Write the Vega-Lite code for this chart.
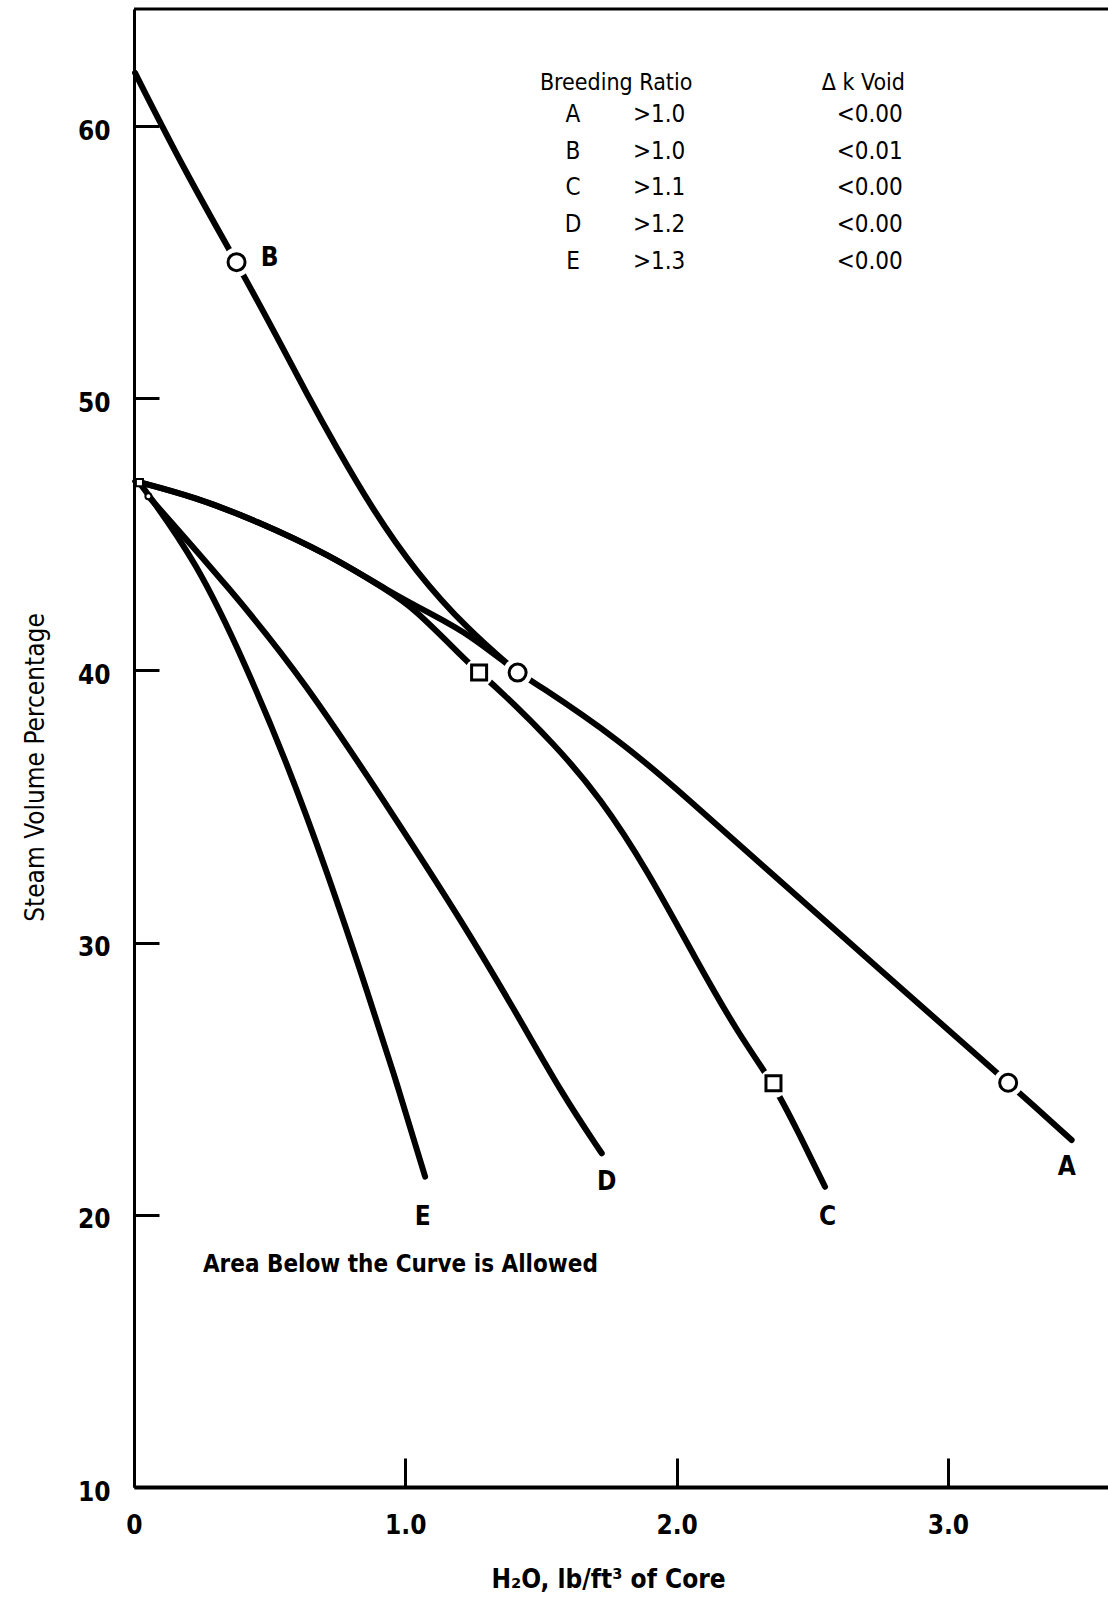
{
  "$schema": "https://vega.github.io/schema/vega-lite/v6.json",
  "width": 974,
  "height": 1478,
  "autosize": {"type": "none"},
  "padding": {"left": 134, "top": 9, "right": 0, "bottom": 113},
  "background": "white",
  "config": {"view": {"stroke": null}, "font": "DejaVu Sans Condensed"},
  "datasets": {
    "curves": [
      {"curve": "A", "x": 0.005, "y": 46.95}, {"curve": "A", "x": 0.23, "y": 46.35}, {"curve": "A", "x": 0.45, "y": 45.5},
      {"curve": "A", "x": 0.72, "y": 44.25}, {"curve": "A", "x": 0.94, "y": 42.9}, {"curve": "A", "x": 1.1, "y": 42.05},
      {"curve": "A", "x": 1.24, "y": 41.3}, {"curve": "A", "x": 1.414, "y": 39.92}, {"curve": "A", "x": 1.47, "y": 39.6},
      {"curve": "A", "x": 1.79, "y": 37.45}, {"curve": "A", "x": 2.04, "y": 35.3}, {"curve": "A", "x": 2.32, "y": 32.8},
      {"curve": "A", "x": 2.75, "y": 29.0}, {"curve": "A", "x": 3.155, "y": 25.44}, {"curve": "A", "x": 3.222, "y": 24.85},
      {"curve": "A", "x": 3.456, "y": 22.75},
      {"curve": "B", "x": 0.004, "y": 61.95}, {"curve": "B", "x": 0.19, "y": 58.3}, {"curve": "B", "x": 0.378, "y": 55.0},
      {"curve": "B", "x": 0.53, "y": 52.2}, {"curve": "B", "x": 0.64, "y": 50.1}, {"curve": "B", "x": 0.74, "y": 48.3},
      {"curve": "B", "x": 0.88, "y": 45.9}, {"curve": "B", "x": 1.04, "y": 43.6}, {"curve": "B", "x": 1.23, "y": 41.5},
      {"curve": "B", "x": 1.414, "y": 39.92},
      {"curve": "C", "x": 0.005, "y": 46.95}, {"curve": "C", "x": 0.23, "y": 46.35}, {"curve": "C", "x": 0.45, "y": 45.5},
      {"curve": "C", "x": 0.72, "y": 44.25}, {"curve": "C", "x": 0.94, "y": 42.9}, {"curve": "C", "x": 1.03, "y": 42.3},
      {"curve": "C", "x": 1.21, "y": 40.5}, {"curve": "C", "x": 1.272, "y": 39.92}, {"curve": "C", "x": 1.34, "y": 39.35},
      {"curve": "C", "x": 1.55, "y": 37.3}, {"curve": "C", "x": 1.72, "y": 35.3}, {"curve": "C", "x": 1.89, "y": 32.7},
      {"curve": "C", "x": 2.07, "y": 29.4}, {"curve": "C", "x": 2.23, "y": 26.6}, {"curve": "C", "x": 2.357, "y": 24.83},
      {"curve": "C", "x": 2.45, "y": 23.0}, {"curve": "C", "x": 2.547, "y": 21.03},
      {"curve": "D", "x": 0.053, "y": 46.4}, {"curve": "D", "x": 0.354, "y": 43.0}, {"curve": "D", "x": 0.623, "y": 39.7},
      {"curve": "D", "x": 0.968, "y": 34.5}, {"curve": "D", "x": 1.214, "y": 30.7}, {"curve": "D", "x": 1.41, "y": 27.4},
      {"curve": "D", "x": 1.58, "y": 24.4}, {"curve": "D", "x": 1.724, "y": 22.26},
      {"curve": "E", "x": 0.02, "y": 46.9}, {"curve": "E", "x": 0.232, "y": 44.0}, {"curve": "E", "x": 0.416, "y": 40.1},
      {"curve": "E", "x": 0.56, "y": 36.7}, {"curve": "E", "x": 0.71, "y": 32.67}, {"curve": "E", "x": 0.87, "y": 27.9},
      {"curve": "E", "x": 0.97, "y": 24.8}, {"curve": "E", "x": 1.073, "y": 21.4}
    ],
    "frame": [
      {"x": 0, "x2": 3.59, "y": 64.3}
    ],
    "markers": [
      {"shape": "circle", "x": 0.378, "y": 55.0},
      {"shape": "circle", "x": 1.414, "y": 39.92},
      {"shape": "circle", "x": 3.222, "y": 24.85},
      {"shape": "square", "x": 1.272, "y": 39.92},
      {"shape": "square", "x": 2.357, "y": 24.83}
    ],
    "small": [
      {"shape": "square", "x": 0.02, "y": 46.9},
      {"shape": "circle", "x": 0.053, "y": 46.4}
    ],
    "labels": [
      {"text": "A", "x": 3.438, "y": 21.77},
      {"text": "B", "x": 0.5, "y": 55.17},
      {"text": "C", "x": 2.556, "y": 19.93},
      {"text": "D", "x": 1.742, "y": 21.2},
      {"text": "E", "x": 1.064, "y": 19.93}
    ],
    "table": [
      {"col": "hdr", "text": "Breeding Ratio", "x": 1.496, "y": 61.58},
      {"col": "hdr", "text": "Δ k Void", "x": 2.535, "y": 61.58},
      {"col": "letter", "text": "A", "x": 1.618, "y": 60.4},
      {"col": "letter", "text": "B", "x": 1.618, "y": 59.05},
      {"col": "letter", "text": "C", "x": 1.618, "y": 57.72},
      {"col": "letter", "text": "D", "x": 1.618, "y": 56.36},
      {"col": "letter", "text": "E", "x": 1.618, "y": 55.01},
      {"col": "val", "text": ">1.0", "x": 1.839, "y": 60.4},
      {"col": "val", "text": ">1.0", "x": 1.839, "y": 59.05},
      {"col": "val", "text": ">1.1", "x": 1.839, "y": 57.72},
      {"col": "val", "text": ">1.2", "x": 1.839, "y": 56.36},
      {"col": "val", "text": ">1.3", "x": 1.839, "y": 55.01},
      {"col": "val", "text": "<0.00", "x": 2.59, "y": 60.4},
      {"col": "val", "text": "<0.01", "x": 2.59, "y": 59.05},
      {"col": "val", "text": "<0.00", "x": 2.59, "y": 57.72},
      {"col": "val", "text": "<0.00", "x": 2.59, "y": 56.36},
      {"col": "val", "text": "<0.00", "x": 2.59, "y": 55.01}
    ],
    "note": [
      {"text": "Area Below the Curve is Allowed", "x": 0.254, "y": 18.16}
    ]
  },
  "encoding": {
    "x": {
      "field": "x", "type": "quantitative",
      "scale": {"domain": [0, 3.59], "nice": false, "zero": false},
      "axis": {
        "values": [0, 1, 2, 3],
        "labelExpr": "datum.value == 0 ? '0' : format(datum.value, '.1f')",
        "grid": false,
        "tickSize": -29, "tickWidth": 3, "tickColor": "black",
        "domainColor": "black", "domainWidth": 4,
        "labelPadding": 54, "labelFont": "DejaVu Sans Condensed", "labelFontWeight": "bold",
        "labelFontSize": 26, "labelColor": "black", "labelBaseline": "top", "labelFlush": false, "labelOverlap": false,
        "title": "H₂O,  lb/ft³ of Core",
        "titleFont": "DejaVu Sans Condensed", "titleFontSize": 26, "titleFontWeight": "bold", "titleColor": "black",
        "titleX": 474, "titleY": 100, "titleBaseline": "alphabetic", "titleAlign": "center"
      }
    },
    "y": {
      "field": "y", "type": "quantitative",
      "scale": {"domain": [10, 64.3], "nice": false, "zero": false},
      "axis": {
        "values": [10, 20, 30, 40, 50, 60],
        "grid": false,
        "tickSize": -25, "tickWidth": 3, "tickColor": "black",
        "domainColor": "black", "domainWidth": 3,
        "labelPadding": 49, "labelOffset": 5, "labelFont": "DejaVu Sans Condensed", "labelFontWeight": "bold",
        "labelFontSize": 26, "labelColor": "black", "labelFlush": false, "labelOverlap": false,
        "title": "Steam Volume Percentage",
        "titleFont": "DejaVu Sans Condensed", "titleFontSize": 26, "titleFontWeight": "normal", "titleColor": "black",
        "titleX": -99, "titleY": 758, "titleAngle": 270, "titleBaseline": "middle", "titleAlign": "center"
      }
    }
  },
  "layer": [
    {
      "data": {"name": "curves"},
      "mark": {"type": "line", "color": "black", "strokeWidth": 6, "strokeCap": "round", "strokeJoin": "round", "interpolate": "basis"},
      "encoding": {
        "detail": {"field": "curve", "type": "nominal"}
      }
    },
    {
      "data": {"name": "frame"},
      "mark": {"type": "rule", "color": "black", "strokeWidth": 3},
      "encoding": {
        "x2": {"field": "x2"}
      }
    },
    {
      "data": {"name": "markers"},
      "mark": {"type": "point", "shape": "circle", "filled": true, "color": "white", "opacity": 1, "size": 850}
    },
    {
      "data": {"name": "markers"},
      "transform": [{"filter": "datum.shape == 'circle'"}],
      "mark": {"type": "point", "shape": "circle", "filled": false, "stroke": "black", "strokeWidth": 3, "opacity": 1, "size": 289}
    },
    {
      "data": {"name": "markers"},
      "transform": [{"filter": "datum.shape == 'square'"}],
      "mark": {"type": "point", "shape": "square", "filled": false, "stroke": "black", "strokeWidth": 3, "opacity": 1, "size": 225}
    },
    {
      "data": {"name": "small"},
      "transform": [{"filter": "datum.shape == 'square'"}],
      "mark": {"type": "point", "shape": "square", "filled": true, "fill": "white", "stroke": "black", "strokeWidth": 2, "opacity": 1, "size": 50}
    },
    {
      "data": {"name": "small"},
      "transform": [{"filter": "datum.shape == 'circle'"}],
      "mark": {"type": "point", "shape": "circle", "filled": true, "fill": "white", "stroke": "black", "strokeWidth": 2, "opacity": 1, "size": 36}
    },
    {
      "data": {"name": "labels"},
      "mark": {"type": "text", "font": "DejaVu Sans Condensed", "fontWeight": "bold", "fontSize": 26, "color": "black", "align": "center", "baseline": "middle"},
      "encoding": {"text": {"field": "text"}}
    },
    {
      "data": {"name": "table"},
      "transform": [{"filter": "datum.col == 'hdr'"}],
      "mark": {"type": "text", "font": "DejaVu Sans Condensed", "fontSize": 23, "color": "black", "align": "left", "baseline": "middle"},
      "encoding": {"text": {"field": "text"}}
    },
    {
      "data": {"name": "table"},
      "transform": [{"filter": "datum.col == 'letter'"}],
      "mark": {"type": "text", "font": "DejaVu Sans Condensed", "fontSize": 24, "color": "black", "align": "center", "baseline": "middle"},
      "encoding": {"text": {"field": "text"}}
    },
    {
      "data": {"name": "table"},
      "transform": [{"filter": "datum.col == 'val'"}],
      "mark": {"type": "text", "font": "DejaVu Sans Condensed", "fontSize": 24, "color": "black", "align": "left", "baseline": "middle"},
      "encoding": {"text": {"field": "text"}}
    },
    {
      "data": {"name": "note"},
      "mark": {"type": "text", "font": "DejaVu Sans Condensed", "fontWeight": "bold", "fontSize": 24, "color": "black", "align": "left", "baseline": "middle"},
      "encoding": {"text": {"field": "text"}}
    }
  ]
}
